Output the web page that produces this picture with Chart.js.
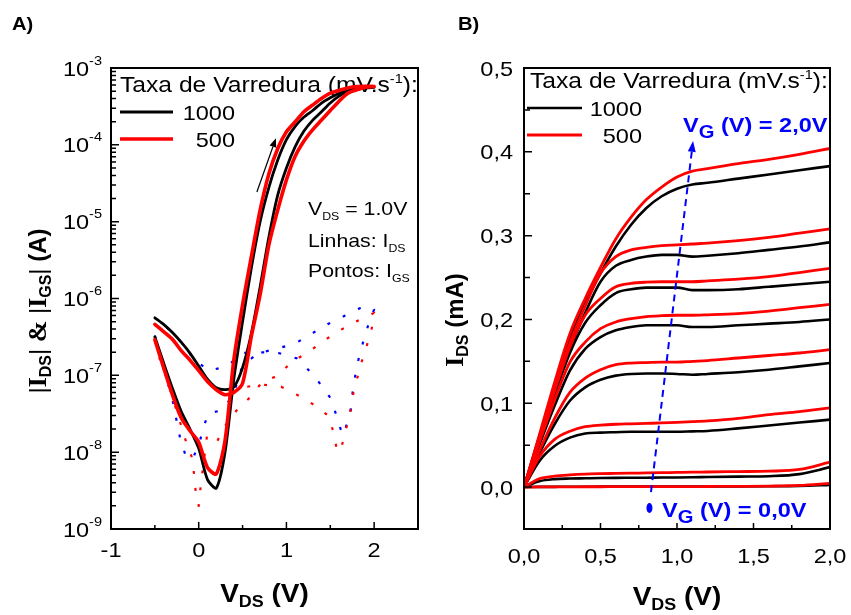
<!DOCTYPE html>
<html>
<head>
<meta charset="utf-8">
<script src="https://cdn.jsdelivr.net/npm/chart.js@4.4.0/dist/chart.umd.min.js"></script>
<style>
html, body { margin: 0; padding: 0; background: #fff; }
#wrap { position: relative; width: 851px; height: 615px; }
canvas { position: absolute; top: 0; }
#cA { left: 0; }
#cB { left: 430px; }
</style>
</head>
<body>
<div id="wrap">
  <canvas id="cA" width="430" height="615"></canvas>
  <canvas id="cB" width="421" height="615"></canvas>
</div>
<script>
// ---- Panel A: transfer curves (sweep -0.5 -> 2.0 V and back) ----
const vSweep = [-0.5, -0.4, -0.3, -0.2, -0.1, 0.0, 0.1, 0.2, 0.3, 0.4, 0.5, 0.6, 0.7,
                0.8, 0.9, 1.0, 1.1, 1.2, 1.3, 1.4, 1.5, 1.6, 1.7, 1.8, 1.9, 2.0];
const idsFwd1000 = [3.16e-7, 1.45e-7, 6.8e-8, 3.4e-8, 2.0e-8, 1.12e-8, 4.4e-9, 3.4e-9, 1.0e-8, 8.9e-8, 5.0e-7, 2.5e-6, 1.0e-5,
                    2.8e-5, 6.3e-5, 1.17e-4, 1.74e-4, 2.3e-4, 2.8e-4, 3.5e-4, 4.1e-4, 4.7e-4, 5.1e-4, 5.4e-4, 5.6e-4, 5.6e-4];
const idsRev1000 = [5.6e-7, 4.6e-7, 3.6e-7, 2.7e-7, 1.95e-7, 1.32e-7, 8.9e-8, 6.9e-8, 6.5e-8, 7.0e-8, 1.26e-7, 3.5e-7, 1.41e-6,
                    6.3e-6, 2.2e-5, 5.0e-5, 9.5e-5, 1.51e-4, 2.1e-4, 2.7e-4, 3.5e-4, 4.3e-4, 4.9e-4, 5.2e-4, 5.5e-4, 5.6e-4];
const idsFwd500 = [2.9e-7, 1.26e-7, 5.6e-8, 2.8e-8, 1.9e-8, 1.35e-8, 6.3e-9, 5.2e-9, 1.41e-8, 1.58e-7, 8.3e-7, 3.5e-6, 1.41e-5,
                   4.2e-5, 8.9e-5, 1.48e-4, 2.0e-4, 2.7e-4, 3.3e-4, 4.0e-4, 4.7e-4, 5.1e-4, 5.5e-4, 5.75e-4, 5.8e-4, 5.75e-4];
const idsRev500 = [4.6e-7, 3.7e-7, 2.95e-7, 2.1e-7, 1.58e-7, 1.15e-7, 8.3e-8, 6.5e-8, 5.6e-8, 6.0e-8, 7.9e-8, 3.2e-7, 1.12e-6,
                   5.0e-6, 1.41e-5, 3.5e-5, 7.1e-5, 1.12e-4, 1.58e-4, 2.1e-4, 2.8e-4, 3.7e-4, 4.7e-4, 5.2e-4, 5.6e-4, 5.75e-4];

// gate current traces, in sweep order
const vIgs1000 = [-0.5, -0.40, -0.34, -0.29, -0.25, -0.21, -0.15, -0.07, 0.01, 0.06, 0.11, 0.26, 0.39, 0.45, 0.50,
                  0.68, 0.88, 1.10, 1.29, 1.48, 1.67, 1.87, 2.0, 1.93, 1.87, 1.82, 1.78, 1.75, 1.73, 1.67, 1.64,
                  1.57, 1.51, 1.40, 1.26, 1.12, 0.91, 0.68, 0.49, 0.33, 0.12, -0.05, -0.16, -0.30, -0.47];
const igs1000 = [3.3e-7, 1.2e-7, 7.1e-8, 4.3e-8, 2.5e-8, 1.48e-8, 9.1e-9, 8.1e-9, 1.35e-8, 2.2e-8, 3.2e-8, 3.5e-8, 5.4e-8, 8.9e-8, 1.35e-7,
                 1.95e-7, 2.2e-7, 2.6e-7, 3.5e-7, 4.7e-7, 6.0e-7, 7.8e-7, 7.2e-7, 4.4e-7, 2.6e-7, 1.58e-7, 9.3e-8, 5.5e-8, 3.2e-8, 2.0e-8, 1.66e-8,
                 3.0e-8, 4.9e-8, 7.4e-8, 1.15e-7, 1.66e-7, 1.95e-7, 2.0e-7, 1.95e-7, 1.32e-7, 1.15e-7, 1.58e-7, 2.4e-7, 3.6e-7, 5.4e-7];
const vIgs500 = [-0.5, -0.45, -0.38, -0.32, -0.26, -0.20, -0.14, -0.07, -0.05, -0.03, 0.0, 0.02, 0.07, 0.095,
                 0.21, 0.30, 0.44, 0.58, 0.72, 0.91, 1.06, 1.24, 1.41, 1.60, 1.79, 2.0,
                 1.97, 1.91, 1.85, 1.80, 1.75, 1.72, 1.67, 1.62, 1.58, 1.54, 1.49, 1.32, 1.13, 0.94,
                 0.72, 0.55, 0.40, 0.30, 0.20, 0.10, 0.0, -0.10, -0.20, -0.30, -0.40, -0.50];
const igs500 = [2.8e-7, 1.7e-7, 1.02e-7, 6.2e-8, 3.7e-8, 2.2e-8, 1.32e-8, 8.1e-9, 4.7e-9, 2.75e-9, 2.0e-9, 3.4e-9, 9.8e-9, 1.66e-8,
                1.38e-8, 2.2e-8, 3.6e-8, 5.1e-8, 8.1e-8, 1.0e-7, 1.51e-7, 1.95e-7, 2.75e-7, 3.8e-7, 5.0e-7, 6.5e-7,
                3.9e-7, 2.3e-7, 1.41e-7, 8.5e-8, 5.1e-8, 3.0e-8, 1.82e-8, 1.07e-8, 1.02e-8, 1.7e-8, 2.9e-8, 4.1e-8, 5.5e-8, 7.1e-8,
                7.6e-8, 7.1e-8, 6.0e-8, 5.6e-8, 6.5e-8, 8.3e-8, 1.15e-7, 1.58e-7, 2.1e-7, 2.95e-7, 3.7e-7, 4.6e-7];

const xTicksA = [-1, 0, 1, 2];
const xMinorA = [-0.5, 0.5, 1.5];
const yDecadesA = [1e-9, 1e-8, 1e-7, 1e-6, 1e-5, 1e-4, 1e-3];

// ---- Panel B: output curves, one row per gate voltage (0 V first, 2.0 V last) ----
const vDrain = [0, 0.1, 0.2, 0.3, 0.4, 0.5, 0.6, 0.7, 0.8, 0.9, 1.0, 1.1, 1.2, 1.4, 1.6, 1.8, 2.0];
const outBlack = [
  [0, 0.0002, 0.0003, 0.0004, 0.0004, 0.0005, 0.0005, 0.0005, 0.0006, 0.0006, 0.0006, 0.0007, 0.0007, 0.0008, 0.0010, 0.0014, 0.0025],
  [0, 0.007, 0.0095, 0.0102, 0.0105, 0.0108, 0.011, 0.0111, 0.0112, 0.0114, 0.0115, 0.0117, 0.012, 0.0125, 0.013, 0.0155, 0.0238],
  [0, 0.031, 0.049, 0.059, 0.064, 0.065, 0.0655, 0.066, 0.066, 0.066, 0.066, 0.0665, 0.067, 0.070, 0.0735, 0.077, 0.0805],
  [0, 0.040, 0.075, 0.103, 0.119, 0.128, 0.133, 0.135, 0.1355, 0.1355, 0.135, 0.134, 0.135, 0.137, 0.140, 0.144, 0.148],
  [0, 0.050, 0.097, 0.139, 0.165, 0.179, 0.187, 0.191, 0.193, 0.193, 0.193, 0.191, 0.191, 0.193, 0.195, 0.197, 0.200],
  [0, 0.055, 0.110, 0.160, 0.196, 0.217, 0.2315, 0.236, 0.238, 0.238, 0.238, 0.235, 0.235, 0.236, 0.239, 0.242, 0.245],
  [0, 0.058, 0.115, 0.165, 0.208, 0.245, 0.264, 0.271, 0.275, 0.277, 0.277, 0.275, 0.276, 0.279, 0.283, 0.287, 0.292],
  [0, 0.060, 0.120, 0.177, 0.219, 0.255, 0.287, 0.313, 0.333, 0.347, 0.356, 0.361, 0.363, 0.368, 0.373, 0.378, 0.383]
];
const outRed = [
  [0, 0.0002, 0.0003, 0.0003, 0.0004, 0.0004, 0.0005, 0.0005, 0.0005, 0.0006, 0.0006, 0.0006, 0.0007, 0.0009, 0.0012, 0.0020, 0.0045],
  [0, 0.010, 0.013, 0.0145, 0.0155, 0.016, 0.0163, 0.0166, 0.0169, 0.0172, 0.0175, 0.0178, 0.018, 0.0185, 0.019, 0.021, 0.0298],
  [0, 0.036, 0.057, 0.0667, 0.072, 0.074, 0.075, 0.0755, 0.076, 0.0765, 0.0772, 0.078, 0.079, 0.082, 0.0865, 0.090, 0.0945],
  [0, 0.043, 0.082, 0.113, 0.130, 0.140, 0.146, 0.148, 0.1485, 0.149, 0.149, 0.150, 0.151, 0.154, 0.157, 0.160, 0.164],
  [0, 0.053, 0.104, 0.149, 0.173, 0.189, 0.197, 0.201, 0.2035, 0.2045, 0.205, 0.205, 0.2055, 0.207, 0.210, 0.214, 0.218],
  [0, 0.058, 0.115, 0.167, 0.205, 0.225, 0.239, 0.243, 0.2445, 0.245, 0.245, 0.245, 0.246, 0.248, 0.251, 0.256, 0.261],
  [0, 0.060, 0.120, 0.172, 0.216, 0.255, 0.275, 0.283, 0.286, 0.288, 0.289, 0.290, 0.291, 0.294, 0.298, 0.303, 0.308],
  [0, 0.062, 0.125, 0.183, 0.225, 0.262, 0.296, 0.322, 0.343, 0.358, 0.370, 0.377, 0.380, 0.386, 0.391, 0.397, 0.404]
];
const xTicksB = [0, 0.5, 1.0, 1.5, 2.0];
const xMinorB = [0.25, 0.75, 1.25, 1.75];
const yTicksB = [0, 0.1, 0.2, 0.3, 0.4, 0.5];
const yMinorB = [0.05, 0.15, 0.25, 0.35, 0.45];

const RED = '#ff0000', BLUE = '#0000ff';
const SANS = '"Liberation Sans", Arial, sans-serif';
const SERIF = '"Liberation Serif", "Times New Roman", serif';
const SX = 1.12; // reference text is a little wider than Arial

// text made of runs: {t, s(size), b(bold), dy, serif, c}
function drawParts(ctx, x, y, parts, align, sx) {
  sx = sx || SX;
  ctx.save();
  ctx.translate(x, y);
  ctx.scale(sx, 1);
  ctx.textBaseline = 'alphabetic';
  ctx.textAlign = 'left';
  const fonts = parts.map(p => (p.b ? 'bold ' : '') + p.s + 'px ' + (p.serif ? SERIF : SANS));
  let w = 0;
  const ws = parts.map((p, i) => { ctx.font = fonts[i]; const m = ctx.measureText(p.t).width; w += m; return m; });
  let cx = align === 'right' ? -w : (align === 'center' ? -w / 2 : 0);
  parts.forEach((p, i) => {
    ctx.font = fonts[i];
    ctx.fillStyle = p.c || '#000';
    ctx.fillText(p.t, cx, p.dy || 0);
    cx += ws[i];
  });
  ctx.restore();
}

function drawRotated(ctx, x, y, parts) {
  ctx.save();
  ctx.translate(x, y);
  ctx.rotate(-Math.PI / 2);
  drawParts(ctx, 0, 0, parts, 'center', 1);
  ctx.restore();
}

function arrow(ctx, x1, y1, x2, y2, color, width, dash, head, hw) {
  const ang = Math.atan2(y2 - y1, x2 - x1);
  const bx = x2 - head * Math.cos(ang), by = y2 - head * Math.sin(ang);
  ctx.save();
  ctx.strokeStyle = color; ctx.fillStyle = color; ctx.lineWidth = width;
  ctx.setLineDash(dash);
  ctx.beginPath(); ctx.moveTo(x1, y1); ctx.lineTo(bx, by); ctx.stroke();
  ctx.setLineDash([]);
  ctx.beginPath();
  ctx.moveTo(x2, y2);
  ctx.lineTo(bx + hw * Math.sin(ang), by - hw * Math.cos(ang));
  ctx.lineTo(bx - hw * Math.sin(ang), by + hw * Math.cos(ang));
  ctx.closePath(); ctx.fill();
  ctx.restore();
}

function legendRow(ctx, x1, x2, y, color, lw, label, xr) {
  ctx.save();
  ctx.strokeStyle = color; ctx.lineWidth = lw;
  ctx.beginPath(); ctx.moveTo(x1, y); ctx.lineTo(x2, y); ctx.stroke();
  ctx.restore();
  drawParts(ctx, xr, y + 7.5, [{t: label, s: 21}], 'right');
}

function frame(ctx, a) {
  ctx.strokeStyle = '#000';
  ctx.lineWidth = 2;
  ctx.strokeRect(a.left, a.top, a.right - a.left, a.bottom - a.top);
}

function loop(fwd, rev) {
  const pts = vSweep.map((v, i) => ({x: v, y: fwd[i]}));
  for (let i = vSweep.length - 1; i >= 0; i--) pts.push({x: vSweep[i], y: rev[i]});
  return pts;
}
function pairs(xs, ys) { return xs.map((v, i) => ({x: v, y: ys[i]})); }

const panelA = {
  id: 'panelA',
  beforeDatasetsDraw(chart) {
    const ctx = chart.ctx;
    drawParts(ctx, 120, 92, [{t: 'Taxa de Varredura (mV.s', s: 22}, {t: '-1', s: 13, dy: -9}, {t: '):', s: 22}]);
    legendRow(ctx, 120, 173, 112, '#000', 2.8, '1000', 235);
    legendRow(ctx, 120, 173, 139, RED, 3.6, '500', 235);
    drawParts(ctx, 308, 215, [{t: 'V', s: 19}, {t: 'DS', s: 11, dy: 5}, {t: ' = 1.0V', s: 19}]);
    drawParts(ctx, 308, 247, [{t: 'Linhas: I', s: 19}, {t: 'DS', s: 11, dy: 5}]);
    drawParts(ctx, 308, 277, [{t: 'Pontos: I', s: 19}, {t: 'GS', s: 11, dy: 5}]);
  },
  afterDraw(chart) {
    const ctx = chart.ctx, a = chart.chartArea, x = chart.scales.x, y = chart.scales.y;
    ctx.save();
    frame(ctx, a);
    ctx.lineWidth = 1.5;
    ctx.beginPath();
    xTicksA.forEach(v => { const p = x.getPixelForValue(v); ctx.moveTo(p, a.bottom); ctx.lineTo(p, a.bottom - 7); });
    xMinorA.forEach(v => { const p = x.getPixelForValue(v); ctx.moveTo(p, a.bottom); ctx.lineTo(p, a.bottom - 4); });
    yDecadesA.forEach((d, i) => {
      const p = y.getPixelForValue(d);
      ctx.moveTo(a.left, p); ctx.lineTo(a.left + 8, p);
      if (i < yDecadesA.length - 1) {
        for (let m = 2; m <= 9; m++) {
          const q = y.getPixelForValue(d * m);
          ctx.moveTo(a.left, q); ctx.lineTo(a.left + 5, q);
        }
      }
    });
    ctx.stroke();
    xTicksA.forEach(v => drawParts(ctx, x.getPixelForValue(v), a.bottom + 28, [{t: String(v), s: 21}], 'center'));
    yDecadesA.forEach(d => {
      const e = Math.round(Math.log10(d));
      drawParts(ctx, a.left - 9, y.getPixelForValue(d) + 7.5, [{t: '10', s: 21}, {t: String(e), s: 13, dy: -11}], 'right');
    });
    drawParts(ctx, (a.left + a.right) / 2, 602,
      [{t: 'V', s: 25, b: 1}, {t: 'DS', s: 16, b: 1, dy: 5}, {t: ' (V)', s: 25, b: 1}], 'center');
    drawRotated(ctx, 46, 311, [
      {t: '|', s: 24}, {t: 'I', s: 26, b: 1, serif: 1}, {t: 'DS', s: 16, b: 1, dy: 5}, {t: '|', s: 24},
      {t: ' & ', s: 26, b: 1, serif: 1}, {t: '|', s: 24}, {t: 'I', s: 26, b: 1, serif: 1},
      {t: 'GS', s: 16, b: 1, dy: 5}, {t: '|', s: 24}, {t: ' (A)', s: 24, b: 1}]);
    drawParts(ctx, 12, 30, [{t: 'A)', s: 18, b: 1}]);
    arrow(ctx, x.getPixelForValue(0.663), y.getPixelForValue(2.43e-5),
      x.getPixelForValue(0.88), y.getPixelForValue(1.22e-4), '#000', 1.2, [], 9, 3.5);
    ctx.restore();
  }
};

const panelB = {
  id: 'panelB',
  beforeDatasetsDraw(chart) {
    const ctx = chart.ctx;
    drawParts(ctx, 100, 88, [{t: 'Taxa de Varredura (mV.s', s: 22}, {t: '-1', s: 13, dy: -9}, {t: '):', s: 22}]);
    legendRow(ctx, 97, 152, 108, '#000', 2.6, '1000', 212);
    legendRow(ctx, 97, 152, 135, RED, 2.8, '500', 212);
  },
  afterDraw(chart) {
    const ctx = chart.ctx, a = chart.chartArea, x = chart.scales.x, y = chart.scales.y;
    const fmt = v => v.toFixed(1).replace('.', ',');
    ctx.save();
    frame(ctx, a);
    ctx.lineWidth = 1.5;
    ctx.beginPath();
    xTicksB.forEach(v => { const p = x.getPixelForValue(v); ctx.moveTo(p, a.bottom); ctx.lineTo(p, a.bottom - 6); });
    xMinorB.forEach(v => { const p = x.getPixelForValue(v); ctx.moveTo(p, a.bottom); ctx.lineTo(p, a.bottom - 4); });
    yTicksB.forEach(v => { const p = y.getPixelForValue(v); ctx.moveTo(a.left, p); ctx.lineTo(a.left + 8, p); });
    yMinorB.forEach(v => { const p = y.getPixelForValue(v); ctx.moveTo(a.left, p); ctx.lineTo(a.left + 6, p); });
    ctx.stroke();
    xTicksB.forEach(v => drawParts(ctx, x.getPixelForValue(v), a.bottom + 34, [{t: fmt(v), s: 21}], 'center'));
    yTicksB.forEach(v => drawParts(ctx, a.left - 11, y.getPixelForValue(v) + 7.5, [{t: fmt(v), s: 21}], 'right'));
    drawParts(ctx, (a.left + a.right) / 2, 605,
      [{t: 'V', s: 25, b: 1}, {t: 'DS', s: 16, b: 1, dy: 5}, {t: ' (V)', s: 25, b: 1}], 'center');
    drawRotated(ctx, 33, 320, [{t: 'I', s: 26, b: 1, serif: 1}, {t: 'DS', s: 16, b: 1, dy: 5}, {t: ' (mA)', s: 24, b: 1}]);
    drawParts(ctx, 28, 30, [{t: 'B)', s: 18, b: 1}]);
    arrow(ctx, x.getPixelForValue(0.83), y.getPixelForValue(-0.006),
      x.getPixelForValue(1.105), y.getPixelForValue(0.413), BLUE, 2, [7, 5], 11, 4);
    ctx.fillStyle = BLUE;
    ctx.beginPath();
    ctx.ellipse(x.getPixelForValue(0.82), y.getPixelForValue(-0.025), 3, 5, 0, 0, Math.PI * 2);
    ctx.fill();
    drawParts(ctx, 253, 132, [{t: 'V', s: 21, b: 1, c: BLUE}, {t: 'G', s: 18, b: 1, dy: 6, c: BLUE},
      {t: ' (V) = 2,0V', s: 21, b: 1, c: BLUE}]);
    drawParts(ctx, 232, 517, [{t: 'V', s: 21, b: 1, c: BLUE}, {t: 'G', s: 18, b: 1, dy: 6, c: BLUE},
      {t: ' (V) = 0,0V', s: 21, b: 1, c: BLUE}]);
    ctx.restore();
  }
};

function axes(xmin, xmax, ymin, ymax, ytype, yWidth) {
  const hidden = {grid: {display: false}, border: {display: false}, ticks: {display: false}};
  return {
    x: Object.assign({type: 'linear', min: xmin, max: xmax, afterFit(s) { s.height = 86; }}, hidden),
    y: Object.assign({type: ytype, min: ymin, max: ymax, afterFit(s) { s.width = yWidth; }}, hidden)
  };
}

function baseOptions(padRight, scales) {
  return {
    responsive: false,
    animation: false,
    devicePixelRatio: 1,
    layout: {padding: {top: 68, right: padRight, left: 0, bottom: 0}},
    plugins: {legend: {display: false}, tooltip: {enabled: false}},
    elements: {point: {radius: 0}, line: {tension: 0, borderJoinStyle: 'round', borderCapStyle: 'round'}},
    scales: scales
  };
}

new Chart(document.getElementById('cA'), {
  type: 'line',
  data: {
    datasets: [
      {label: '500', data: loop(idsFwd500, idsRev500), borderColor: RED, borderWidth: 3.6, tension: 0.25, order: 0},
      {label: '1000', data: loop(idsFwd1000, idsRev1000), borderColor: '#000', borderWidth: 2.8, tension: 0.25, order: 1},
      {label: 'IGS 500', data: pairs(vIgs500, igs500), borderColor: RED, borderWidth: 2.2,
       borderDash: [3, 14], borderCapStyle: 'butt', order: 2},
      {label: 'IGS 1000', data: pairs(vIgs1000, igs1000), borderColor: BLUE, borderWidth: 2.2,
       borderDash: [3, 14], borderCapStyle: 'butt', order: 3}
    ]
  },
  options: baseOptions(12, axes(-1, 2.5, 1e-9, 1e-3, 'logarithmic', 111)),
  plugins: [panelA]
});

const outSets = [];
outRed.forEach((row, k) => outSets.push({label: '500 #' + k, data: pairs(vDrain, row), borderColor: RED,
  borderWidth: 2.8, cubicInterpolationMode: 'monotone', order: 0}));
outBlack.forEach((row, k) => outSets.push({label: '1000 #' + k, data: pairs(vDrain, row), borderColor: '#000',
  borderWidth: 2.6, cubicInterpolationMode: 'monotone', order: 1}));

new Chart(document.getElementById('cB'), {
  type: 'line',
  data: {datasets: outSets},
  options: baseOptions(21, axes(0, 2, -0.05, 0.5, 'linear', 94)),
  plugins: [panelB]
});
</script>
</body>
</html>
